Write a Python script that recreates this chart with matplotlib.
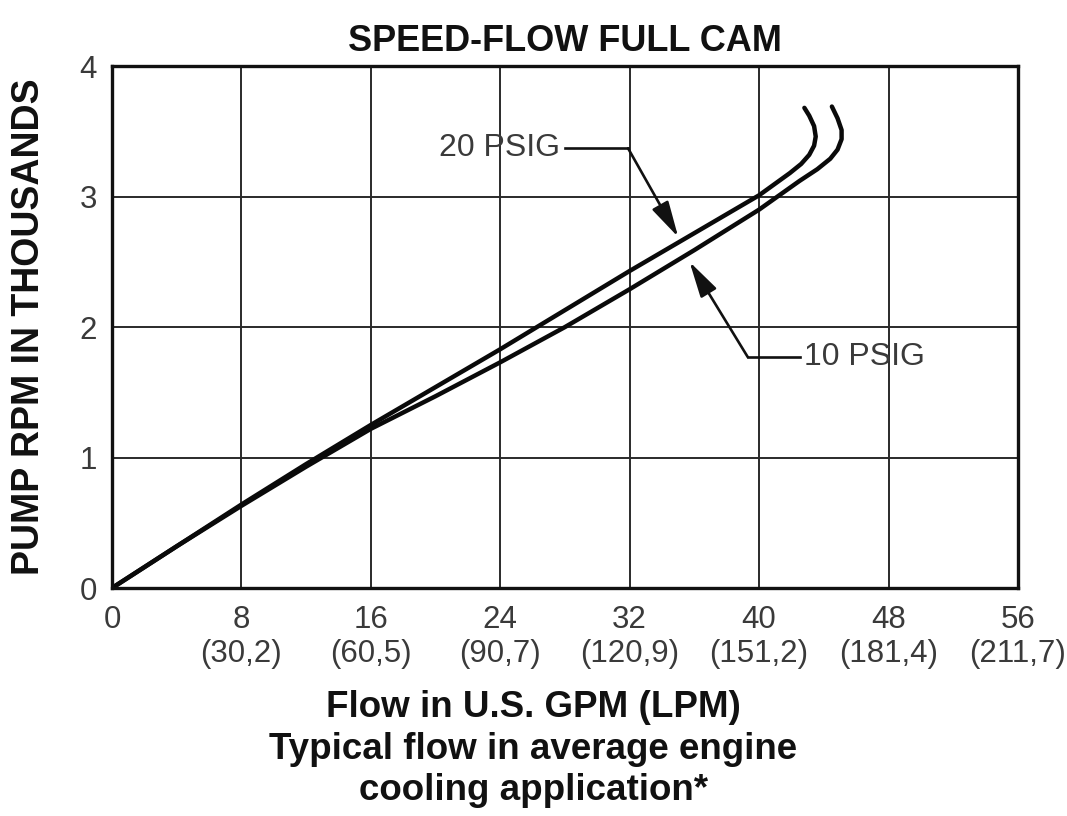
import matplotlib.pyplot as plt


# flow (US GPM) vs pump speed (thousand rpm)
FLOW_20 = [0, 4, 8, 12, 16, 20, 24, 28, 32, 36, 40, 41.9, 42.6, 43.1, 43.4, 43.5, 43.4, 43.1, 42.8]
RPM_20 = [0, 0.32, 0.64, 0.95, 1.25, 1.54, 1.83, 2.13, 2.43, 2.72, 3.01, 3.18, 3.25, 3.32, 3.39, 3.46, 3.54, 3.62, 3.68]
FLOW_10 = [0, 4, 8, 12, 16, 20, 24, 28, 32, 36, 40, 42.5, 43.6, 44.4, 44.85, 45.1, 45.1, 44.85, 44.5]
RPM_10 = [0, 0.32, 0.63, 0.93, 1.22, 1.47, 1.73, 2.00, 2.29, 2.59, 2.90, 3.12, 3.21, 3.29, 3.36, 3.44, 3.51, 3.60, 3.69]

GPM_TICKS = [0, 8, 16, 24, 32, 40, 48, 56]
LPM_LABELS = ["", "(30,2)", "(60,5)", "(90,7)", "(120,9)", "(151,2)", "(181,4)", "(211,7)"]
RPM_TICKS = [0, 1, 2, 3, 4]


def main() -> None:
    plt.rcParams.update({"font.family": ["Liberation Sans", "DejaVu Sans"]})
    fig = plt.figure(figsize=(10.67, 8.16), dpi=100)
    ax = fig.add_axes([0.105, 0.2794, 0.849, 0.6396])

    ax.set_xlim(0, 56)
    ax.set_ylim(0, 4)
    ax.set_xticks(GPM_TICKS)
    ax.set_xticklabels(
        [f"{g}\n{l}" if l else f"{g}\n " for g, l in zip(GPM_TICKS, LPM_LABELS)],
        fontsize=22.5, color="#3a3a3a", linespacing=1.18,
    )
    ax.set_yticks(RPM_TICKS)
    ax.set_yticklabels([str(v) for v in RPM_TICKS], fontsize=22.5, color="#3a3a3a")
    ax.tick_params(axis="x", length=0, pad=12)
    ax.tick_params(axis="y", length=0, pad=11)
    ax.grid(True, color="#2a2a2a", linewidth=1.4)
    ax.set_axisbelow(True)
    for s in ax.spines.values():
        s.set_linewidth(2.4)
        s.set_color("#111111")

    ax.plot(FLOW_20, RPM_20, color="#0a0a0a", linewidth=3.2, solid_joinstyle="round", solid_capstyle="round")
    ax.plot(FLOW_10, RPM_10, color="#0a0a0a", linewidth=3.2, solid_joinstyle="round", solid_capstyle="round")

    arrow = {"arrowstyle": "-|>,head_length=1.1,head_width=0.28", "color": "#111111", "lw": 1.9,
             "mutation_scale": 20, "shrinkA": 0, "shrinkB": 0}

    # 20 PSIG leader
    ax.plot([28.0, 31.9], [3.37, 3.37], color="#111111", linewidth=1.9)
    ax.annotate("", xy=(35.0, 2.69), xytext=(31.9, 3.37), arrowprops=arrow)
    ax.text(27.7, 3.37, "20 PSIG", ha="right", va="center", fontsize=23, color="#3a3a3a")

    # 10 PSIG leader
    ax.plot([39.3, 42.5], [1.77, 1.77], color="#111111", linewidth=1.9)
    ax.annotate("", xy=(35.7, 2.50), xytext=(39.3, 1.77), arrowprops=arrow)
    ax.text(42.8, 1.77, "10 PSIG", ha="left", va="center", fontsize=23, color="#3a3a3a")

    ax.set_title("SPEED-FLOW FULL CAM", fontsize=26, weight="bold", pad=11, color="#111111")
    ax.set_ylabel("PUMP RPM IN THOUSANDS", fontsize=27, weight="bold", color="#111111")
    ax.yaxis.set_label_coords(-0.072, 0.5)

    fig.text(0.5, 0.082, "Flow in U.S. GPM (LPM)\nTypical flow in average engine\ncooling application*",
             ha="center", va="center", fontsize=26.5, weight="bold", color="#111111", linespacing=1.24)

    fig.savefig("out.png", dpi=100, facecolor="white")


if __name__ == "__main__":
    main()
